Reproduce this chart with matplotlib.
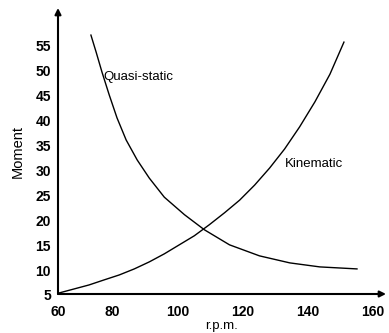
import matplotlib
matplotlib.use("Agg")
import matplotlib.pyplot as plt

plt.rcParams['font.family'] = ['Liberation Sans', 'DejaVu Sans']

# Data
quasi_x = [73.5, 75.1, 76.9, 79.1, 81.5, 84.3, 87.7, 91.4, 96.0, 102.2, 108.3,
           116.0, 125.2, 134.5, 143.7, 155.1]
quasi_y = [57.0, 53.6, 49.6, 45.1, 40.5, 36.1, 32.1, 28.5, 24.7, 21.2, 18.2,
           15.2, 13.0, 11.6, 10.8, 10.4]

kin_x = [63.7, 68.3, 72.9, 77.5, 82.2, 86.8, 91.4, 96.0, 100.6, 105.2, 109.8,
         114.5, 119.1, 123.7, 128.3, 132.9, 137.5, 142.2, 146.8, 151.1]
kin_y = [5.6, 6.4, 7.2, 8.2, 9.2, 10.4, 11.8, 13.4, 15.2, 17.0, 19.2,
         21.6, 24.1, 27.1, 30.5, 34.3, 38.7, 43.7, 49.2, 55.6]

x_ticks = [60, 80, 100, 120, 140, 160]
y_ticks = [5, 10, 15, 20, 25, 30, 35, 40, 45, 50, 55]
x_label = "r.p.m."
y_label = "Moment"
curve_labels = ["Quasi-static", "Kinematic"]

x_lo, x_hi = 63.4, 164.0
y_lo, y_hi = 5.4, 62.4

fig = plt.figure(figsize=(3.89, 3.33), dpi=100)
ax = fig.add_axes([58/389, 1-294/333, (386-58)/389, (294-8)/333])

ax.plot(quasi_x, quasi_y, color='black', lw=1.0, solid_joinstyle='round')
ax.plot(kin_x, kin_y, color='black', lw=1.0, solid_joinstyle='round')

ax.set_xlim(x_lo, x_hi)
ax.set_ylim(y_lo, y_hi)

for s in ax.spines.values():
    s.set_visible(False)

# axes with arrows
ax.annotate('', xy=(1, 0), xytext=(0, 0), xycoords='axes fraction',
            arrowprops=dict(arrowstyle='-|>', lw=1.5, color='black',
                            mutation_scale=9, shrinkA=0, shrinkB=0))
ax.annotate('', xy=(0, 1), xytext=(0, 0), xycoords='axes fraction',
            arrowprops=dict(arrowstyle='-|>', lw=1.5, color='black',
                            mutation_scale=9, shrinkA=0, shrinkB=0))

ax.set_xticks([max(v, x_lo) for v in x_ticks])
ax.set_xticklabels([str(v) for v in x_ticks], fontweight='bold')
ax.set_yticks([max(v, y_lo) for v in y_ticks])
ax.set_yticklabels([str(v) for v in y_ticks], fontweight='bold')
ax.tick_params(axis='x', length=0, pad=8, labelsize=10)
ax.tick_params(axis='y', length=0, pad=5, labelsize=10)

ax.set_xlabel(x_label, fontsize=9.5, labelpad=1)
ax.set_ylabel(y_label, fontsize=10.5, labelpad=8)

ax.text(77.2, 48.6, curve_labels[0], fontsize=9.5, va='center', ha='left')
ax.text(132.9, 31.3, curve_labels[1], fontsize=9.5, va='center', ha='left')

fig.savefig("out.png", dpi=100)
